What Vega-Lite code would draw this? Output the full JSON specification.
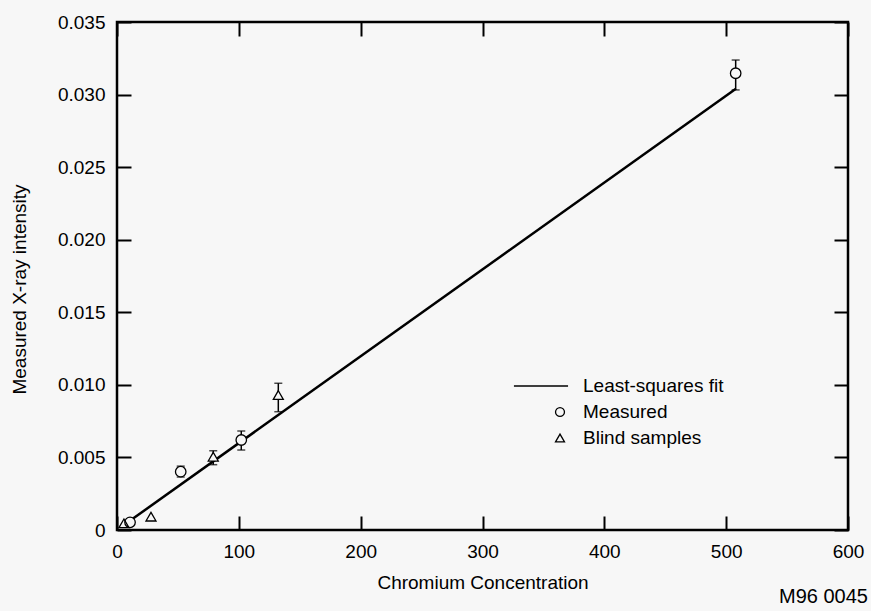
{
  "$schema": "https://vega.github.io/schema/vega-lite/v6.json",
  "width": 731,
  "height": 508,
  "autosize": "none",
  "padding": {"left": 117, "top": 22, "right": 23, "bottom": 81},
  "background": "#f7f7f7",
  "config": {
    "font": "Liberation Sans",
    "view": {"stroke": "black", "strokeWidth": 2.5},
    "axis": {
      "grid": false,
      "domain": false,
      "tickColor": "black",
      "tickWidth": 2,
      "tickSize": -14,
      "labelPadding": 26,
      "labelFlush": false,
      "labelColor": "black",
      "titleColor": "black",
      "labelFontSize": 19,
      "titleFontSize": 19,
      "titleFontWeight": "normal",
      "labelFont": "Liberation Sans",
      "titleFont": "Liberation Sans"
    }
  },
  "title": {
    "text": "M96 0045",
    "orient": "bottom",
    "anchor": "end",
    "frame": "group",
    "offset": -5,
    "dx": 20,
    "fontSize": 20,
    "fontWeight": "normal",
    "font": "Liberation Sans",
    "color": "black"
  },
  "datasets": {
    "fit": [
      {"x": 10, "y": 0.0006},
      {"x": 508, "y": 0.0304}
    ],
    "pts": [
      {"series": "Blind samples", "x": 5.7, "y": 0.00046, "lo": null, "hi": null},
      {"series": "Measured", "x": 10.7, "y": 0.00053, "lo": null, "hi": null},
      {"series": "Blind samples", "x": 27.9, "y": 0.00092, "lo": null, "hi": null},
      {"series": "Measured", "x": 52.3, "y": 0.00402, "lo": 0.00365, "hi": 0.0044},
      {"series": "Blind samples", "x": 79.0, "y": 0.00505, "lo": 0.0045, "hi": 0.00546},
      {"series": "Measured", "x": 102.0, "y": 0.0062, "lo": 0.00551, "hi": 0.00682},
      {"series": "Blind samples", "x": 132.4, "y": 0.0093, "lo": 0.00815, "hi": 0.01011},
      {"series": "Measured", "x": 507.8, "y": 0.03147, "lo": 0.03032, "hi": 0.03238}
    ]
  },
  "layer": [
    {
      "data": {"name": "fit"},
      "mark": {"type": "line", "color": "black", "strokeWidth": 2.5},
      "encoding": {
        "x": {
          "field": "x", "type": "quantitative",
          "scale": {"domain": [0, 600], "nice": false, "zero": false},
          "axis": {"orient": "bottom", "values": [0, 100, 200, 300, 400, 500, 600], "title": "Chromium Concentration", "titlePadding": 12}
        },
        "y": {
          "field": "y", "type": "quantitative",
          "scale": {"domain": [0, 0.035], "nice": false, "zero": false},
          "axis": {"orient": "left", "values": [0, 0.005, 0.01, 0.015, 0.02, 0.025, 0.03, 0.035], "labelExpr": "datum.value == 0 ? '0' : format(datum.value, '.3f')", "title": "Measured X-ray intensity", "titlePadding": 28, "titleY": 267}
        }
      }
    },
    {
      "data": {"name": "pts"},
      "transform": [{"filter": "datum.lo != null"}],
      "mark": {"type": "rule", "color": "black", "strokeWidth": 1.5},
      "encoding": {
        "x": {"field": "x", "type": "quantitative", "axis": {"orient": "top", "values": [0, 100, 200, 300, 400, 500, 600], "labels": false, "title": null}},
        "y": {"field": "lo", "type": "quantitative", "axis": {"orient": "right", "values": [0, 0.005, 0.01, 0.015, 0.02, 0.025, 0.03, 0.035], "labels": false, "title": null}},
        "y2": {"field": "hi"}
      }
    },
    {
      "data": {"name": "pts"},
      "transform": [{"filter": "datum.lo != null"}],
      "mark": {"type": "tick", "orient": "horizontal", "color": "black", "size": 8, "thickness": 1.5},
      "encoding": {
        "x": {"field": "x", "type": "quantitative", "axis": null},
        "y": {"field": "lo", "type": "quantitative", "axis": null}
      }
    },
    {
      "data": {"name": "pts"},
      "transform": [{"filter": "datum.hi != null"}],
      "mark": {"type": "tick", "orient": "horizontal", "color": "black", "size": 8, "thickness": 1.5},
      "encoding": {
        "x": {"field": "x", "type": "quantitative", "axis": null},
        "y": {"field": "hi", "type": "quantitative", "axis": null}
      }
    },
    {
      "data": {"name": "pts"},
      "transform": [{"filter": "datum.series == 'Measured'"}],
      "mark": {"type": "point", "filled": true, "color": "#f7f7f7", "opacity": 1, "size": 110, "shape": "circle"},
      "encoding": {
        "x": {"field": "x", "type": "quantitative", "axis": null},
        "y": {"field": "y", "type": "quantitative", "axis": null}
      }
    },
    {
      "data": {"name": "pts"},
      "transform": [{"filter": "datum.series == 'Blind samples'"}],
      "mark": {"type": "point", "filled": true, "color": "#f7f7f7", "opacity": 1, "size": 100, "shape": "triangle-up"},
      "encoding": {
        "x": {"field": "x", "type": "quantitative", "axis": null},
        "y": {"field": "y", "type": "quantitative", "axis": null}
      }
    },
    {
      "data": {"name": "pts"},
      "transform": [{"filter": "datum.series == 'Measured'"}],
      "mark": {"type": "point", "filled": false, "color": "black", "strokeWidth": 1.3, "opacity": 1, "size": 110},
      "encoding": {
        "x": {"field": "x", "type": "quantitative", "axis": null},
        "y": {"field": "y", "type": "quantitative", "axis": null},
        "shape": {
          "field": "series", "type": "nominal",
          "scale": {"domain": ["Least-squares fit", "Measured", "Blind samples"], "range": ["M-10.3,0H1.8", "circle", "triangle-up"]},
          "legend": {
            "orient": "none", "legendX": 433.5, "legendY": 354.5, "title": null,
            "labelFontSize": 19, "labelFont": "Liberation Sans", "labelColor": "black",
            "labelOffset": 13.5, "symbolSize": 80, "rowPadding": 6, "padding": 0,
            "symbolStrokeWidth": 1.3,
            "encode": {"symbols": {"update": {"strokeWidth": {"signal": "datum.value === 'Least-squares fit' ? 2.5 : 1.3"}}}}
          }
        }
      }
    },
    {
      "data": {"name": "pts"},
      "transform": [{"filter": "datum.series == 'Blind samples'"}],
      "mark": {"type": "point", "filled": false, "color": "black", "strokeWidth": 1.3, "opacity": 1, "size": 100},
      "encoding": {
        "x": {"field": "x", "type": "quantitative", "axis": null},
        "y": {"field": "y", "type": "quantitative", "axis": null},
        "shape": {"field": "series", "type": "nominal"}
      }
    }
  ],
  "resolve": {"axis": {"x": "independent", "y": "independent"}}
}
